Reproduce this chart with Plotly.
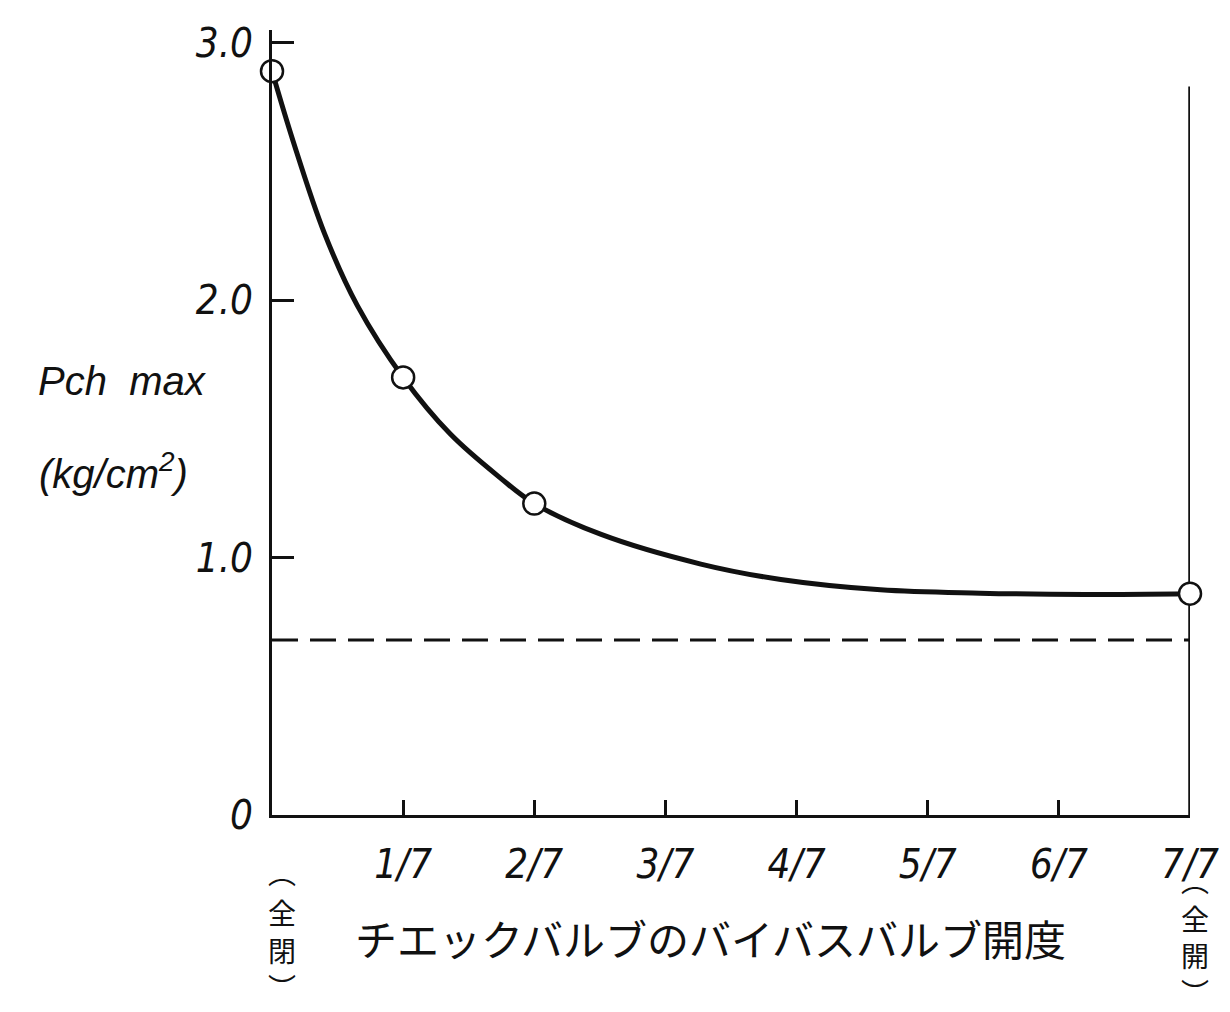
import plotly.graph_objects as go

# Data (x in units of 1/7 opening)
tick_vals = [1, 2, 3, 4, 5, 6, 7]
tick_text = ["1/7", "2/7", "3/7", "4/7", "5/7", "6/7", "7/7"]
y_tick_vals = [0, 1.0, 2.0, 3.0]
y_tick_text = ["0", "1.0", "2.0", "3.0"]

meas_x = [0, 1, 2, 7]
meas_y = [2.89, 1.70, 1.21, 0.86]

curve_x = [0, 0.16, 0.40, 0.65, 1, 1.36, 1.74, 2, 2.51, 3.27, 3.88, 4.64, 5.4, 6.2, 7]
curve_y = [2.89, 2.62, 2.26, 1.98, 1.70, 1.48, 1.31, 1.21, 1.09, 0.975, 0.915, 0.875, 0.862, 0.857, 0.86]

ref_x = [0, 7]
ref_y = [0.68, 0.68]

right_x = [7, 7]
right_y = [0, 2.83]

left_note = ["︵", "全", "閉", "︶"]
right_note = ["︵", "全", "開", "︶"]

narrow = "Liberation Sans Narrow, DejaVu Sans Condensed, sans-serif"
tick_font = dict(family=narrow, size=40, color="#111", style="italic")

fig = go.Figure()
fig.add_trace(go.Scatter(x=right_x, y=right_y, mode="lines",
                         line=dict(color="#111", width=3.5), hoverinfo="skip"))
fig.add_trace(go.Scatter(x=ref_x, y=ref_y, mode="lines",
                         line=dict(color="#111", width=3, dash="26px,12px"), hoverinfo="skip"))
fig.add_trace(go.Scatter(x=curve_x, y=curve_y, mode="lines",
                         line=dict(color="#111", width=5, shape="spline", smoothing=1.0)))
fig.add_trace(go.Scatter(x=meas_x, y=meas_y, mode="markers", cliponaxis=False,
                         marker=dict(size=22, color="white", line=dict(color="#111", width=2.5))))

fig.update_xaxes(range=[0, 7], showline=True, linewidth=3, linecolor="#111",
                 showgrid=False, zeroline=False, tickmode="array",
                 tickvals=tick_vals, ticktext=tick_text, ticks="inside",
                 ticklen=15, tickwidth=3, tickcolor="#111", tickfont=tick_font,
                 ticklabelstandoff=12)
fig.update_yaxes(range=[0, 3.05], showline=True, linewidth=3, linecolor="#111",
                 showgrid=False, zeroline=False, tickmode="array",
                 tickvals=y_tick_vals, ticktext=y_tick_text, ticks="inside",
                 ticklen=22, tickwidth=3, tickcolor="#111", tickfont=tick_font,
                 ticklabelstandoff=8)

# page px -> paper coords (paper x=0 at page x 272, y=0 at page y 815)
def px_x(p):
    return (p - 272) / 918

def px_y(p):
    return (815 - p) / 787

cjk = "Noto Sans CJK JP"
ann_font = dict(family="Liberation Sans, Arial, sans-serif", size=40, color="#111", style="italic")
fig.add_annotation(xref="paper", yref="paper", x=px_x(122), y=px_y(380),
                   text="Pch  max", showarrow=False, font=ann_font, xanchor="center")
fig.add_annotation(xref="paper", yref="paper", x=px_x(113), y=px_y(470),
                   text="(kg/cm<sup>2</sup>)", showarrow=False, font=ann_font, xanchor="center")
fig.add_annotation(xref="paper", yref="paper", x=px_x(710), y=px_y(938),
                   text="チエックバルブのバイバスバルブ開度", showarrow=False,
                   font=dict(family=cjk, size=42, color="#111"),
                   xanchor="center", yanchor="middle")

left_y = [872, 912, 950, 987]
right_y_px = [880, 918, 955, 992]
for ch, ypx in zip(left_note, left_y):
    fig.add_annotation(xref="paper", yref="paper", x=px_x(282), y=px_y(ypx),
                       text=ch, showarrow=False, xanchor="center", yanchor="middle",
                       font=dict(family=cjk, size=28, color="#111"))
for ch, ypx in zip(right_note, right_y_px):
    fig.add_annotation(xref="paper", yref="paper", x=px_x(1195), y=px_y(ypx),
                       text=ch, showarrow=False, xanchor="center", yanchor="middle",
                       font=dict(family=cjk, size=28, color="#111"))

fig.update_layout(width=1230, height=1012, showlegend=False,
                  plot_bgcolor="white", paper_bgcolor="white",
                  margin=dict(l=264, r=48, t=20, b=205))
fig.write_html("out.html")
